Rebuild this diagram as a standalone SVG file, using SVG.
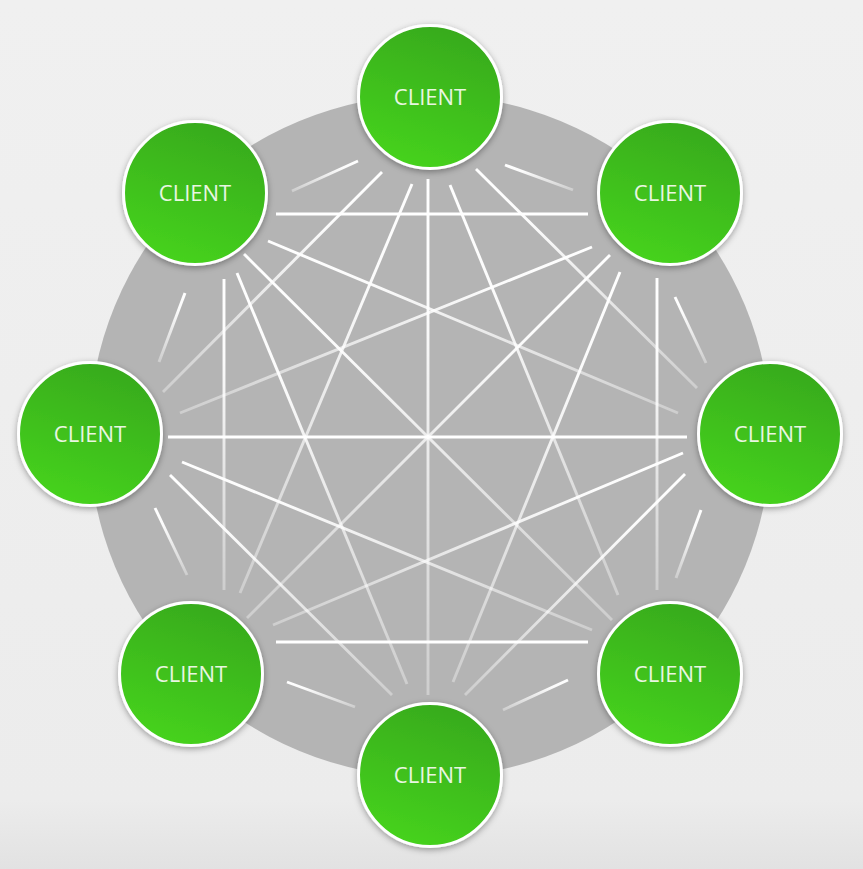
<svg xmlns="http://www.w3.org/2000/svg" width="863" height="869" viewBox="0 0 863 869">
  <defs>
    <linearGradient id="bg" x1="0" y1="0" x2="0" y2="1">
      <stop offset="0" stop-color="#f0f0f0"/>
      <stop offset="0.92" stop-color="#ececec"/>
      <stop offset="1" stop-color="#e2e2e2"/>
    </linearGradient>
    <linearGradient id="fade" x1="0" y1="0" x2="0" y2="1">
      <stop offset="0" stop-color="#ffffff" stop-opacity="1"/>
      <stop offset="0.25" stop-color="#ffffff" stop-opacity="0.95"/>
      <stop offset="1" stop-color="#ffffff" stop-opacity="0.35"/>
    </linearGradient>
    <linearGradient id="green" x1="0.7" y1="0" x2="0.35" y2="1">
      <stop offset="0" stop-color="#37a91e"/>
      <stop offset="1" stop-color="#46d31f"/>
    </linearGradient>
    <filter id="shadow" x="-20%" y="-20%" width="140%" height="140%">
      <feDropShadow dx="0" dy="2" stdDeviation="3" flood-color="#000000" flood-opacity="0.35"/>
    </filter>
  </defs>
  <style>
    .link { fill: none; stroke: url(#fade); stroke-width: 2.9; stroke-linecap: butt; }
    .flat { fill: none; stroke: #ffffff; stroke-width: 2.9; }
    .node circle { fill: url(#green); stroke: #ffffff; stroke-width: 3; filter: url(#shadow); }
    .node text { font-family: "Open Sans", "Noto Sans", "Liberation Sans", sans-serif; font-size: 22px; fill: #e9f6e2; text-anchor: middle; }
  </style>
  <rect x="0" y="0" width="863" height="869" fill="url(#bg)"/>
  <circle id="ring" cx="430" cy="436" r="341" fill="#b4b4b4"/>
  <g id="connectors">
    <line class="link" x1="505" y1="165" x2="573" y2="190"/>
    <line class="link" x1="675" y1="297" x2="706" y2="363"/>
    <line class="link" x1="701" y1="510" x2="676" y2="578"/>
    <line class="link" x1="568" y1="680" x2="503" y2="710"/>
    <line class="link" x1="287" y1="682" x2="355" y2="707"/>
    <line class="link" x1="155" y1="508" x2="187" y2="575"/>
    <line class="link" x1="185" y1="293" x2="159" y2="362"/>
    <line class="link" x1="358" y1="161" x2="292" y2="191"/>
    <line class="flat" x1="276" y1="214" x2="588" y2="214"/>
    <line class="flat" x1="276" y1="642" x2="588" y2="642"/>
    <line class="link" x1="224" y1="279" x2="224.01" y2="590"/>
    <line class="link" x1="657" y1="278" x2="657.01" y2="590"/>
    <line class="link" x1="382" y1="172" x2="163" y2="392"/>
    <line class="link" x1="476" y1="169" x2="697" y2="388"/>
    <line class="link" x1="170" y1="475" x2="392" y2="695"/>
    <line class="link" x1="685" y1="474" x2="465" y2="695"/>
    <line class="link" x1="412" y1="184" x2="240" y2="593"/>
    <line class="link" x1="450" y1="185" x2="618" y2="595"/>
    <line class="link" x1="592" y1="247" x2="180" y2="413"/>
    <line class="link" x1="268" y1="241" x2="678" y2="413"/>
    <line class="link" x1="620" y1="272" x2="453" y2="682"/>
    <line class="link" x1="237" y1="273" x2="407" y2="684"/>
    <line class="link" x1="182" y1="462" x2="592" y2="630"/>
    <line class="link" x1="683" y1="453" x2="273" y2="625"/>
    <line class="link" x1="428" y1="179" x2="428.01" y2="695"/>
    <line class="flat" x1="168" y1="437" x2="687" y2="437"/>
    <line class="link" x1="610" y1="255" x2="247" y2="618"/>
    <line class="link" x1="244" y1="254" x2="612" y2="620"/>
  </g>
  <g id="client-n" class="node"><circle cx="430" cy="97" r="71.5"/><text x="430" y="104.5">CLIENT</text></g>
  <g id="client-ne" class="node"><circle cx="670" cy="193" r="71.5"/><text x="670" y="200.5">CLIENT</text></g>
  <g id="client-e" class="node"><circle cx="770" cy="434" r="71.5"/><text x="770" y="441.5">CLIENT</text></g>
  <g id="client-se" class="node"><circle cx="670" cy="674" r="71.5"/><text x="670" y="681.5">CLIENT</text></g>
  <g id="client-s" class="node"><circle cx="430" cy="775" r="71.5"/><text x="430" y="782.5">CLIENT</text></g>
  <g id="client-sw" class="node"><circle cx="191" cy="674" r="71.5"/><text x="191" y="681.5">CLIENT</text></g>
  <g id="client-w" class="node"><circle cx="90" cy="434" r="71.5"/><text x="90" y="441.5">CLIENT</text></g>
  <g id="client-nw" class="node"><circle cx="195" cy="193" r="71.5"/><text x="195" y="200.5">CLIENT</text></g>
</svg>
